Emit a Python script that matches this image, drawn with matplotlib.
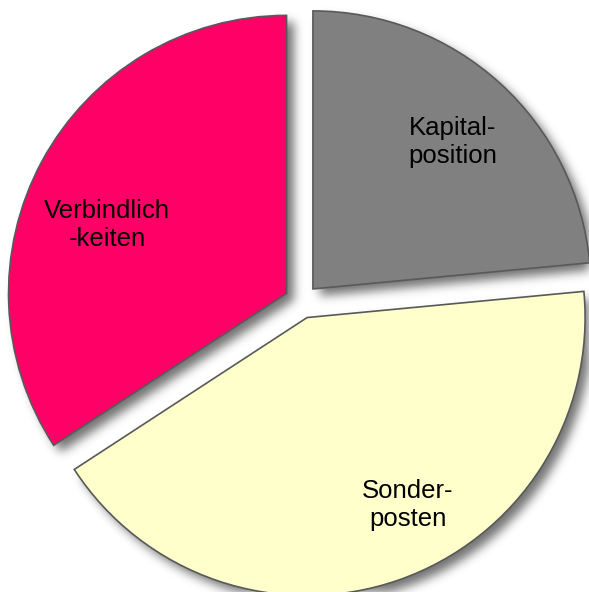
import numpy as np
import matplotlib
matplotlib.use("Agg")
import matplotlib.pyplot as plt

plt.rcParams['font.family'] = ['Liberation Sans', 'DejaVu Sans']

# Data (shares in percent)
labels = ["Kapital-\nposition", "Sonder-\nposten", "Verbindlich\n-keiten"]
shares = [23.5, 42.3, 34.2]
colors = ["#808080", "#FFFFCC", "#FF0066"]

W, H = 589, 592
fig = plt.figure(figsize=(W / 100, H / 100), dpi=100)
ax = fig.add_axes([0, 0, 1, 1])

center = (301.5, H - 301.5)
radius = 278
wedges, _ = ax.pie(shares, colors=colors, startangle=90, counterclock=False,
                   explode=[17, 17, 17], radius=radius, center=center,
                   wedgeprops=dict(edgecolor="#595959", linewidth=1.2))
for w in wedges:
    w.set_zorder(3)

# soft drop shadow under the wedges
xs = np.arange(W) + 0.5
ys = np.arange(H) + 0.5
gx, gy = np.meshgrid(xs, ys)
off = (7, -7)
pts = np.column_stack([gx.ravel() - off[0], gy.ravel() - off[1]])
mask = np.zeros(gx.size, dtype=bool)
for w in wedges:
    mask |= w.get_path().contains_points(pts)
mask = mask.reshape(gx.shape).astype(float)
sig = 5.0
k = np.arange(-15, 16)
kern = np.exp(-k ** 2 / (2 * sig ** 2))
kern /= kern.sum()
blur = np.apply_along_axis(lambda r: np.convolve(r, kern, mode="same"), 1, mask)
blur = np.apply_along_axis(lambda c: np.convolve(c, kern, mode="same"), 0, blur)
shadow = np.zeros((H, W, 4))
shadow[..., 3] = blur * 0.55
ax.imshow(shadow, extent=(0, W, 0, H), origin="lower", zorder=2, interpolation="bilinear")

# labels
label_pos = [(453, H - 142), (408, H - 505), (107, H - 225)]
for txt, (tx, ty) in zip(labels, label_pos):
    ax.text(tx, ty, txt, ha="center", va="center", fontsize=18.5,
            linespacing=1.25, color="#000000", zorder=4)

ax.set_xlim(0, W)
ax.set_ylim(0, H)
ax.set_aspect("equal")
ax.axis("off")

fig.savefig("out.png", dpi=100)
